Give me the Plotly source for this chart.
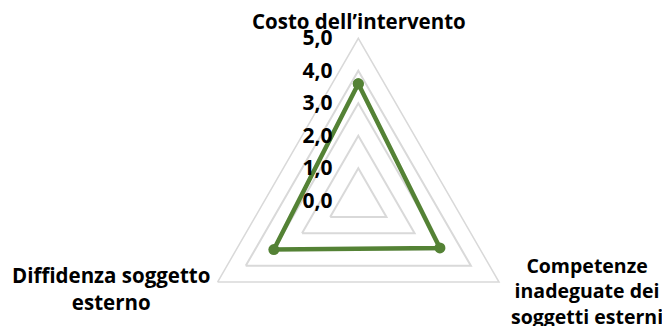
import plotly.graph_objects as go

categories = ["Costo dell’intervento",
              "Competenze<br>inadeguate dei<br>soggetti esterni",
              "Diffidenza soggetto<br>esterno"]
values = [3.6, 2.9, 3.0]
tick_vals = [0, 1, 2, 3, 4, 5]
tick_text = ["0,0", "1,0", "2,0", "3,0", "4,0", "5,0"]

W, H = 670, 402
OFF = 8  # page body margin
cx, cy, R = 358.3 - OFF, 200.8 - OFF, 162.5
FONT = "Open Sans"

fig = go.Figure()
fig.add_trace(go.Scatterpolar(
    r=values + values[:1],
    theta=categories + categories[:1],
    mode="lines+markers",
    line=dict(color="#548235", width=4.5),
    marker=dict(size=11, color="#548235"),
    cliponaxis=False,
))

# category label placement (pixels from top-left of the view) and size
label_pos = [(359, 21, 20.5), (587, 291, 19.5), (110.5, 288.5, 20.5)]
for cat, (lx, ly, fs) in zip(categories, label_pos):
    fig.add_annotation(text=cat, xref="paper", yref="paper",
                       x=(lx - OFF) / W, y=(H - (ly - OFF)) / H,
                       xanchor="center", yanchor="middle", align="center",
                       showarrow=False,
                       font=dict(family=FONT, size=fs, color="black", weight="bold"))

fig.update_layout(
    width=W, height=H,
    margin=dict(l=0, r=0, t=0, b=0),
    paper_bgcolor="white",
    showlegend=False,
    font=dict(family=FONT, color="black"),
    polar=dict(
        domain=dict(x=[(cx - R) / W, (cx + R) / W],
                    y=[(H - cy - R) / H, (H - cy + R) / H]),
        gridshape="linear",
        bgcolor="white",
        angularaxis=dict(rotation=90, direction="clockwise",
                         showgrid=False, showline=True,
                         linecolor="#d9d9d9", linewidth=1.5,
                         ticks="", showticklabels=False),
        radialaxis=dict(range=[0, 5], tickvals=tick_vals, ticktext=tick_text,
                        angle=90, side="counterclockwise", tickangle=90,
                        showline=False, ticks="outside", ticklen=18,
                        tickcolor="rgba(0,0,0,0)",
                        gridcolor="#d9d9d9", gridwidth=1.5,
                        tickfont=dict(size=21, family=FONT, weight="bold")),
    ),
)
fig.write_html("out.html")
